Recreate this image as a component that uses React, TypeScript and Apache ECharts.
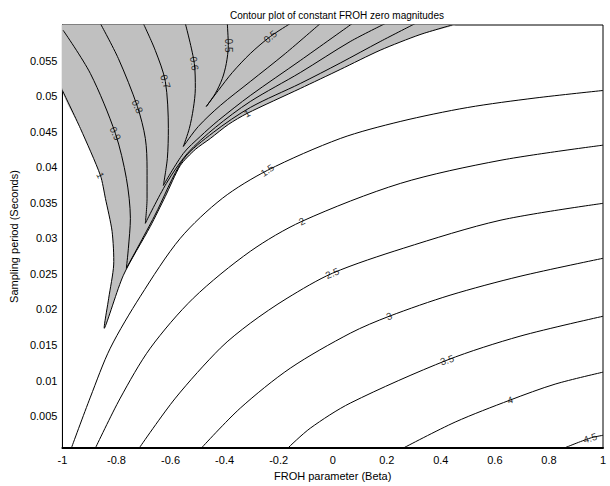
import React, { useEffect, useRef } from "react";
import * as echarts from "echarts";

// Contour lines: [beta, sampling period]
const c05 = [[-0.39,0.0602],[-0.3863,0.05711],[-0.3937,0.05458],[-0.4085,0.05247],[-0.4344,0.05037],[-0.4677,0.04854],[-0.4233,0.05079],[-0.3715,0.05331],[-0.305,0.05598],[-0.2311,0.05837],[-0.1571,0.0602]];
const c06 = [[-0.5453,0.0602],[-0.512,0.05458],[-0.5083,0.05107],[-0.5157,0.04826],[-0.5305,0.04545],[-0.5527,0.04292],[-0.4972,0.04573],[-0.4159,0.04868],[-0.305,0.05205],[-0.1756,0.05598],[-0.0462,0.0602]];
const c07 = [[-0.7006,0.0602],[-0.6562,0.0564],[-0.6192,0.05205],[-0.6081,0.04545],[-0.6118,0.04124],[-0.6266,0.03744],[-0.5527,0.04194],[-0.4898,0.04433],[-0.4233,0.04657],[-0.305,0.05008],[-0.1201,0.055],[0.0721,0.0602]];
const c08 = [[-0.8595,0.0602],[-0.793,0.05528],[-0.7227,0.04854],[-0.6932,0.04404],[-0.6869,0.03982],[-0.6869,0.03562],[-0.6932,0.03211],[-0.6155,0.03772],[-0.5379,0.04194],[-0.4344,0.04559],[-0.305,0.04924],[-0.1201,0.05331],[0.0647,0.05767],[0.1941,0.0602]];
const c09 = [[-0.9974,0.05926],[-0.8965,0.05317],[-0.8041,0.04475],[-0.7634,0.03843],[-0.7486,0.03281],[-0.756,0.0286],[-0.7634,0.02579],[-0.6599,0.03309],[-0.5527,0.0411],[-0.4418,0.04489],[-0.305,0.0484],[-0.1201,0.05177],[0.0277,0.05465],[0.1756,0.05767],[0.305,0.0602]];
const c10 = [[-1,0.05079],[-0.9335,0.04545],[-0.8595,0.03885],[-0.841,0.03562],[-0.8163,0.03098],[-0.8104,0.02625],[-0.8288,0.02157],[-0.8447,0.01736],[-0.7745,0.0248],[-0.6747,0.03169],[-0.6192,0.0359],[-0.5638,0.04025],[-0.5083,0.0425],[-0.4529,0.04404],[-0.3863,0.04601],[-0.3172,0.04756],[-0.1201,0.05107],[0.0277,0.05374],[0.1756,0.05645],[0.323,0.05865],[0.4603,0.0602]];
const c15 = [[-0.967,0.0005],[-0.8965,0.00767],[-0.823,0.01455],[-0.7116,0.02185],[-0.564,0.03],[-0.4085,0.03562],[-0.242,0.03955],[0.028,0.04404],[0.2496,0.04643],[0.4995,0.0484],[0.7486,0.04973],[1.0,0.05079]];
const c20 = [[-0.878,0.0005],[-0.786,0.00753],[-0.675,0.01455],[-0.516,0.02157],[-0.305,0.02817],[-0.114,0.03239],[0.25,0.03772],[0.619,0.04096],[1.0,0.0431]];
const c25 = [[-0.716,0.0005],[-0.582,0.00753],[-0.416,0.01455],[-0.305,0.01806],[-0.169,0.02157],[-0.0018,0.02508],[0.261,0.0286],[0.619,0.03253],[1.0,0.03492]];
const c30 = [[-0.486,0.0005],[-0.342,0.00612],[-0.157,0.01174],[0.065,0.01666],[0.209,0.01904],[0.434,0.022],[0.693,0.02466],[1.0,0.02719]];
const c35 = [[-0.166,0.0005],[-0.083,0.0033],[0.065,0.00683],[0.423,0.01287],[0.693,0.01624],[1.0,0.01904]];
const c40 = [[0.261,0.0005],[0.453,0.00416],[0.656,0.00725],[0.823,0.0095],[1.0,0.01118]];
const c45 = [[0.856,0.0005],[0.952,0.0019],[1.0,0.0023]];

const contours = [c05, c06, c07, c08, c09, c15, c20, c25, c30, c35, c40, c45];

// Top-left corner that closes the shaded region (magnitude below 1) bounded by the 1 contour
const corner = [-1, 0.0602];

// Inline contour labels: [beta, period]
const labelText = ["0.5", "0.5", "0.6", "0.7", "0.8", "0.9", "1", "1", "1.5", "2", "2.5", "3", "3.5", "4", "4.5"];
const labelPos = [[-0.3863,0.05711],[-0.2311,0.05837],[-0.512,0.05458],[-0.6192,0.05205],[-0.7227,0.04854],[-0.8041,0.04475],[-0.8595,0.03885],[-0.3172,0.04756],[-0.242,0.03955],[-0.114,0.03239],[-0.0018,0.02508],[0.209,0.01904],[0.423,0.01287],[0.656,0.00725],[0.952,0.0019]];
const labelAngle = [-90, 40, -80, -72, -65, -65, -65, 28, 33, 27, 24, 20, 18, 17, 17];

const FONT = "Liberation Sans, Arial, Helvetica, sans-serif";

export default function App() {
  const ref = useRef<HTMLDivElement>(null);
  useEffect(() => {
    if (!ref.current) return;
    const chart = echarts.init(ref.current, null, { renderer: "svg" });
    const lineSeries = contours.map((d) => ({
      type: "line",
      data: d,
      smooth: 0.3,
      symbol: "none",
      lineStyle: { color: "#000", width: 1 },
      z: 3,
      clip: true,
      silent: true,
    }));
    chart.setOption({
      animation: false,
      backgroundColor: "#fff",
      textStyle: { fontFamily: FONT },
      title: {
        text: "Contour plot of constant FROH zero magnitudes",
        left: 332,
        top: 5,
        textAlign: "center",
        textStyle: { fontSize: 10, fontWeight: "normal", color: "#000", fontFamily: FONT },
      },
      grid: { left: 62, right: 7, top: 25, bottom: 36, show: true, borderColor: "#000", borderWidth: 1, backgroundColor: "transparent" },
      xAxis: {
        type: "value",
        min: -1,
        max: 1,
        interval: 0.2,
        name: "FROH parameter (Beta)",
        nameLocation: "middle",
        nameGap: 20,
        nameTextStyle: { fontSize: 11, color: "#000", fontFamily: FONT },
        axisLine: { show: true, onZero: false, lineStyle: { color: "#000", width: 2 } },
        axisTick: { show: false },
        splitLine: { show: false },
        axisLabel: { fontSize: 11, color: "#000", margin: 6, fontFamily: FONT },
      },
      yAxis: {
        type: "value",
        min: 0.0005,
        max: 0.06,
        splitNumber: 12,
        name: "Sampling period (Seconds)",
        nameLocation: "middle",
        nameGap: 40,
        nameTextStyle: { fontSize: 11, color: "#000", fontFamily: FONT },
        axisLine: { show: true, onZero: false, lineStyle: { color: "#000", width: 1 } },
        axisTick: { show: false },
        splitLine: { show: false },
        axisLabel: {
          fontSize: 11,
          color: "#000",
          margin: 5,
          fontFamily: FONT,
          showMinLabel: false,
          showMaxLabel: false,
        },
      },
      series: [
        {
          type: "custom",
          z: 2,
          clip: true,
          silent: true,
          data: [0],
          renderItem: (params: any, api: any) => {
            const boundary = c10.map((p) => api.coord(p));
            return {
              type: "group",
              children: [
                {
                  type: "polygon",
                  shape: { points: [...boundary, api.coord(corner)], smooth: 0.25 },
                  style: { fill: "#c0c0c0", stroke: "none" },
                },
                {
                  type: "polyline",
                  shape: { points: boundary, smooth: 0.25 },
                  style: { fill: "none", stroke: "#000", lineWidth: 1 },
                },
              ],
            };
          },
        },
        ...lineSeries,
        {
          type: "scatter",
          z: 5,
          symbolSize: 0,
          silent: true,
          data: labelPos.map((p, i) => ({
            value: p,
            label: {
              show: true,
              formatter: labelText[i],
              rotate: labelAngle[i],
              position: "inside",
              fontSize: 10,
              color: "#000",
              fontFamily: FONT,
            },
          })),
        },
      ],
    });
    return () => chart.dispose();
  }, []);
  return <div ref={ref} style={{ position: "absolute", left: 0, top: 0, width: 610, height: 486 }} />;
}
